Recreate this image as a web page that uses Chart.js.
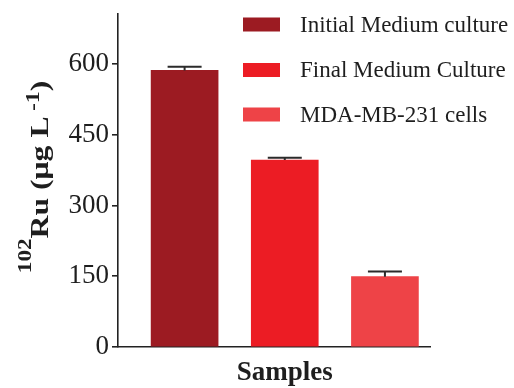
<!DOCTYPE html>
<html>
<head>
<meta charset="utf-8">
<script src="https://cdn.jsdelivr.net/npm/chart.js@4/dist/chart.umd.min.js"></script>
<style>
  html, body { margin: 0; padding: 0; background: #ffffff; }
  #wrap { width: 514px; height: 388px; position: relative; }
</style>
</head>
<body>
<div id="wrap"><canvas id="c" width="514" height="388"></canvas></div>
<script>
// ---- data ----
const categories = ["Initial Medium culture", "Final Medium Culture", "MDA-MB-231 cells"];
const values = [586, 396, 149];
const errors = [8, 5, 11];
const yTicks = [0, 150, 300, 450, 600];
const colors = ["#9c1b22", "#ec1c24", "#ee4347"];
const xTitle = "Samples";

const SERIF = "'Liberation Serif', 'Times New Roman', serif";

const datasets = categories.map((name, i) => ({
  label: name,
  data: [{ x: i, y: values[i] }],
  backgroundColor: colors[i],
  borderWidth: 0,
  barThickness: 67,
  grouped: false
}));

const decor = {
  id: 'decor',
  afterDatasetsDraw(chart) {
    const ctx = chart.ctx;
    const ys = chart.scales.y;
    ctx.save();
    ctx.strokeStyle = '#2b2b2b';
    ctx.lineWidth = 2;
    chart.data.datasets.forEach((ds, i) => {
      const el = chart.getDatasetMeta(i).data[0];
      if (!el) return;
      const x = el.x;
      const yTop = ys.getPixelForValue(values[i] + errors[i]);
      const yVal = ys.getPixelForValue(values[i]);
      ctx.beginPath();
      ctx.moveTo(x, yVal);
      ctx.lineTo(x, yTop);
      ctx.moveTo(x - 17, yTop);
      ctx.lineTo(x + 17, yTop);
      ctx.stroke();
    });
    ctx.restore();
  },
  afterDraw(chart) {
    const ctx = chart.ctx;
    ctx.save();
    // legend
    const rowsY = [24.5, 70, 114.5];
    ctx.font = "23px " + SERIF;
    ctx.textBaseline = 'middle';
    ctx.textAlign = 'left';
    chart.data.datasets.forEach((ds, i) => {
      ctx.fillStyle = ds.backgroundColor;
      ctx.fillRect(243, rowsY[i] - 7, 37, 14);
      ctx.fillStyle = '#1e1e1e';
      ctx.fillText(ds.label, 300, rowsY[i] + 1);
    });
    // x title
    ctx.font = "bold 27px " + SERIF;
    ctx.textAlign = 'center';
    ctx.textBaseline = 'alphabetic';
    ctx.fillStyle = '#1e1e1e';
    ctx.fillText(xTitle, chart.scales.x.getPixelForValue(1), 380);
    // y title with superscripts
    const segs = [
      { t: "102", f: "bold 19px " + SERIF, dy: -17 },
      { t: "Ru (\u03BCg L", f: "bold 26px " + SERIF, dy: 0 },
      { t: " -1", f: "bold 19px " + SERIF, dy: -9 },
      { t: ")", f: "bold 26px " + SERIF, dy: 0 }
    ];
    let total = 0;
    segs.forEach(s => { ctx.font = s.f; s.w = ctx.measureText(s.t).width; total += s.w; });
    ctx.translate(48, 177);
    ctx.rotate(-Math.PI / 2);
    ctx.scale(1.22, 1);
    ctx.textAlign = 'left';
    let cx = -total / 2;
    segs.forEach(s => {
      ctx.font = s.f;
      ctx.fillText(s.t, cx, s.dy);
      cx += s.w;
    });
    ctx.restore();
  }
};

new Chart(document.getElementById('c'), {
  type: 'bar',
  data: { datasets },
  options: {
    responsive: false,
    animation: false,
    layout: { padding: { left: 0, top: 12, right: 84, bottom: 41 } },
    plugins: { legend: { display: false }, tooltip: { enabled: false } },
    scales: {
      x: {
        type: 'linear',
        min: -0.665,
        max: 2.45,
        offset: false,
        ticks: { display: false },
        grid: { display: false },
        border: { display: true, color: '#222', width: 1.6 },
        afterFit(s) { s.height = 0; }
      },
      y: {
        type: 'linear',
        min: 0,
        max: 706,
        afterBuildTicks(s) { s.ticks = yTicks.map(v => ({ value: v })); },
        ticks: {
          font: { family: SERIF, size: 27, lineHeight: 0.8 },
          color: '#1e1e1e',
          padding: 3
        },
        grid: { drawOnChartArea: false, drawTicks: true, tickLength: 6, color: '#222', lineWidth: 1.6 },
        border: { display: true, color: '#222', width: 1.6 },
        afterFit(s) { s.width = 118; }
      }
    }
  },
  plugins: [decor]
});
</script>
</body>
</html>
